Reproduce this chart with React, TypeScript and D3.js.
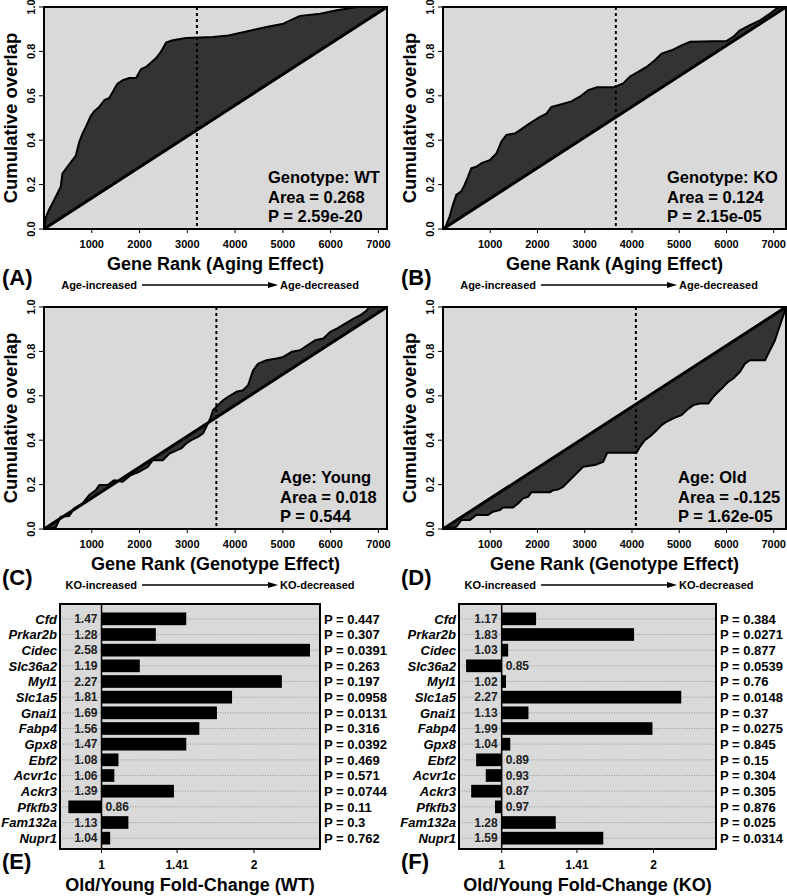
import React from "react";
import * as d3 from "d3";

const FONT = "'Liberation Sans', Arial, Helvetica, sans-serif";
const BG = "#d9d9d9";
const FILL = "#333333";

// ---------- Cumulative overlap curves (rank, overlap) ----------
const aRank = [0,35,105,210,280,350,385,455,560,665,735,806,876,981,1051,1156,1261,1366,1471,1541,1646,1786,1926,2031,2137,2242,2347,2452,2557,2697,2977,3538,3818,4238,4658,5009,5359,5779,6129,6550,7180];
const aOverlap = [0,0.05,0.087,0.13,0.16,0.19,0.25,0.27,0.30,0.33,0.39,0.43,0.46,0.51,0.53,0.55,0.58,0.59,0.63,0.655,0.67,0.68,0.68,0.72,0.73,0.75,0.77,0.80,0.84,0.85,0.86,0.865,0.87,0.89,0.91,0.925,0.96,0.97,0.985,1.0,1.0];

const bRank = [0,35,141,212,282,388,459,530,600,706,812,989,1130,1236,1342,1518,1660,1836,2013,2189,2295,2472,2719,2895,3072,3249,3602,3813,3955,4131,4308,4484,4626,4837,5049,5226,6003,6144,6285,6497,6709,6921,7062,7133,7260];
const bOverlap = [0,0,0.057,0.11,0.154,0.17,0.2,0.236,0.274,0.28,0.296,0.31,0.34,0.394,0.424,0.43,0.45,0.476,0.5,0.52,0.55,0.56,0.575,0.596,0.625,0.638,0.638,0.656,0.686,0.708,0.73,0.76,0.79,0.805,0.827,0.843,0.847,0.865,0.895,0.918,0.94,0.97,0.993,1.0,1.0];

const cRank = [0,245,350,525,630,806,946,1086,1156,1331,1471,1646,1821,1996,2172,2277,2487,2627,2872,2977,3082,3222,3327,3397,3481,3537,3643,3748,3853,4028,4168,4273,4378,4483,4658,4868,5009,5184,5359,5569,5674,5849,5989,6129,6305,6480,6620,6760,6795,7180];
const cOverlap = [0,0.007,0.055,0.058,0.093,0.115,0.153,0.175,0.198,0.198,0.22,0.213,0.243,0.258,0.28,0.31,0.31,0.34,0.363,0.385,0.4,0.415,0.43,0.46,0.498,0.535,0.558,0.58,0.595,0.618,0.625,0.648,0.715,0.745,0.76,0.768,0.775,0.798,0.805,0.835,0.85,0.858,0.888,0.903,0.925,0.948,0.963,0.985,1.0,1.0];

const dRank = [0,282,388,565,706,953,1059,1201,1271,1483,1589,1695,1801,1871,2260,2330,2436,2542,2648,2754,2860,2966,3213,3390,3474,4096,4167,4273,4414,4520,4626,4732,4873,5049,5155,5297,5438,5614,5720,5826,5932,6038,6144,6285,6391,6497,6815,6885,6956,7027,7097,7168,7239,7260];
const dOverlap = [0,0.01,0.04,0.04,0.063,0.063,0.078,0.085,0.097,0.097,0.115,0.138,0.145,0.165,0.165,0.175,0.178,0.19,0.213,0.235,0.258,0.28,0.288,0.303,0.343,0.343,0.37,0.4,0.423,0.445,0.468,0.483,0.498,0.513,0.535,0.558,0.565,0.565,0.595,0.618,0.64,0.663,0.678,0.708,0.745,0.76,0.76,0.79,0.82,0.85,0.895,0.94,0.985,1.0];

const geneCounts = [7180, 7260, 7180, 7260];
const cutRanks = [3201, 3658, 3608, 4082];
const statLines = [
  ["Genotype: WT", "Area = 0.268", "P = 2.59e-20"],
  ["Genotype: KO", "Area = 0.124", "P = 2.15e-05"],
  ["Age: Young", "Area = 0.018", "P = 0.544"],
  ["Age: Old", "Area = -0.125", "P = 1.62e-05"],
];
const panelLetters = ["(A)", "(B)", "(C)", "(D)", "(E)", "(F)"];
const rankTitles = ["Gene Rank (Aging Effect)", "Gene Rank (Aging Effect)", "Gene Rank (Genotype Effect)", "Gene Rank (Genotype Effect)"];
const arrowLeft = ["Age-increased", "Age-increased", "KO-increased", "KO-increased"];
const arrowRight = ["Age-decreased", "Age-decreased", "KO-decreased", "KO-decreased"];

const rankTicks = [1000, 2000, 3000, 4000, 5000, 6000, 7000];
const overlapTicks = [0, 0.2, 0.4, 0.6, 0.8, 1.0];

// ---------- Fold-change bar charts ----------
const genes = ["Cfd","Prkar2b","Cidec","Slc36a2","Myl1","Slc1a5","Gnai1","Fabp4","Gpx8","Ebf2","Acvr1c","Ackr3","Pfkfb3","Fam132a","Nupr1"];
const wtFold = [1.47,1.28,2.58,1.19,2.27,1.81,1.69,1.56,1.47,1.08,1.06,1.39,0.86,1.13,1.04];
const wtP = ["0.447","0.307","0.0391","0.263","0.197","0.0958","0.0131","0.316","0.0392","0.469","0.571","0.0744","0.11","0.3","0.762"];
const koFold = [1.17,1.83,1.03,0.85,1.02,2.27,1.13,1.99,1.04,0.89,0.93,0.87,0.97,1.28,1.59];
const koP = ["0.384","0.0271","0.877","0.0539","0.76","0.0148","0.37","0.0275","0.845","0.15","0.304","0.305","0.876","0.025","0.0314"];
const foldTicks = [1, 1.41, 2];
const foldTickLabels = ["1", "1.41", "2"];
const foldTitles = ["Old/Young Fold-Change (WT)", "Old/Young Fold-Change (KO)"];

function CurvePanel(props: any) {
  const { left, right, top, bottom, ranks, vals, n, cut, lines, textX, letter, title, lLbl, rLbl } = props;
  const x = d3.scaleLinear().domain([0, n]).range([left, right]);
  const y = d3.scaleLinear().domain([0, 1]).range([bottom, top]);
  const pts = ranks.map((r: number, i: number) => ({ r, v: vals[i] }));
  const area = d3.area<any>().x((d) => x(d.r)).y0((d) => y(d.r / n)).y1((d) => y(d.v));
  const line = d3.line<any>().x((d) => x(d.r)).y((d) => y(d.v));
  const cx = (left + right) / 2;
  const cy = (top + bottom) / 2;
  const ay = bottom + 56;
  return (
    <g fontFamily={FONT} fontWeight="bold">
      <rect x={left} y={top} width={right - left} height={bottom - top} fill={BG} />
      <path d={area(pts) || ""} fill={FILL} />
      <path d={line(pts) || ""} fill="none" stroke="#000" strokeWidth={2} strokeLinejoin="round" />
      <line x1={x(0)} y1={y(0)} x2={x(n)} y2={y(1)} stroke="#000" strokeWidth={3} />
      <line x1={x(cut)} x2={x(cut)} y1={top} y2={bottom} stroke="#000" strokeWidth={2} strokeDasharray="3,3" />
      <rect x={left} y={top} width={right - left} height={bottom - top} fill="none" stroke="#000" strokeWidth={2} />
      {rankTicks.map((t) => (
        <g key={t}>
          <line x1={x(t)} x2={x(t)} y1={bottom} y2={bottom + 4} stroke="#000" strokeWidth={1} />
          <text x={x(t)} y={bottom + 19} textAnchor="middle" fontSize={11}>{t}</text>
        </g>
      ))}
      {overlapTicks.map((t) => (
        <g key={t}>
          <line x1={left - 5} x2={left} y1={y(t)} y2={y(t)} stroke="#000" strokeWidth={1} />
          <text transform={`translate(${left - 9},${y(t)}) rotate(-90)`} textAnchor="middle" fontSize={11}>{t.toFixed(1)}</text>
        </g>
      ))}
      <text transform={`translate(${left - 27},${cy}) rotate(-90)`} textAnchor="middle" fontSize={18.5}>Cumulative overlap</text>
      <text x={cx} y={bottom + 41} textAnchor="middle" fontSize={18}>{title}</text>
      {lines.map((s: string, i: number) => (
        <text key={i} x={textX} y={bottom - 46 + i * 19.5} fontSize={16.5}>{s}</text>
      ))}
      <text x={left - 42} y={bottom + 56} fontSize={22}>{letter}</text>
      <text x={left + 93} y={ay + 4} textAnchor="end" fontSize={11}>{lLbl}</text>
      <line x1={left + 98} x2={left + 228} y1={ay} y2={ay} stroke="#000" strokeWidth={1.5} />
      <path d={`M${left + 234},${ay} L${left + 224},${ay - 3} L${left + 224},${ay + 3} Z`} fill="#000" />
      <text x={left + 236} y={ay + 4} fontSize={11}>{rLbl}</text>
    </g>
  );
}

function BarPanel(props: any) {
  const { left, right, top, bottom, fold, pvals, domain, letter, title } = props;
  const x = d3.scaleLog().base(2).domain(domain).range([left, right]);
  const y = d3.scaleBand().domain(genes).range([top + 7, bottom - 3]).paddingInner(0.19).paddingOuter(0.095);
  const x1 = x(1);
  return (
    <g fontFamily={FONT} fontWeight="bold">
      <rect x={left} y={top} width={right - left} height={bottom - top} fill={BG} />
      {genes.map((g) => {
        const cy = (y(g) as number) + y.bandwidth() / 2;
        return <line key={g} x1={left} x2={right} y1={cy} y2={cy} stroke="#888" strokeWidth={0.8} strokeDasharray="1,1.5" />;
      })}
      {genes.map((g, i) => {
        const v = fold[i];
        const xv = x(v);
        const yy = y(g) as number;
        const cy = yy + y.bandwidth() / 2;
        const pos = v >= 1;
        return (
          <g key={g}>
            <rect x={Math.min(x1, xv)} y={yy} width={Math.abs(xv - x1)} height={y.bandwidth()} fill="#000" />
            <text x={pos ? x1 - 4 : x1 + 4} y={cy} dy="0.36em" textAnchor={pos ? "end" : "start"} fontSize={12} fill="#222">{v.toFixed(2)}</text>
            <text x={left - 3} y={cy} dy="0.36em" textAnchor="end" fontSize={13} fontStyle="italic">{g}</text>
            <text x={right + 4} y={cy} dy="0.36em" fontSize={13}>{"P = " + pvals[i]}</text>
          </g>
        );
      })}
      <line x1={x1} x2={x1} y1={top} y2={bottom} stroke="#000" strokeWidth={1.5} />
      <rect x={left} y={top} width={right - left} height={bottom - top} fill="none" stroke="#000" strokeWidth={2} />
      {foldTicks.map((t, i) => (
        <g key={t}>
          <line x1={x(t)} x2={x(t)} y1={bottom} y2={bottom + 4} stroke="#000" strokeWidth={1} />
          <text x={x(t)} y={bottom + 20} textAnchor="middle" fontSize={12}>{foldTickLabels[i]}</text>
        </g>
      ))}
      <text x={(left + right) / 2} y={bottom + 42} textAnchor="middle" fontSize={18}>{title}</text>
      <text x={left - 58} y={bottom + 20} fontSize={22}>{letter}</text>
    </g>
  );
}

export default function App() {
  const curves = [
    { ranks: aRank, vals: aOverlap },
    { ranks: bRank, vals: bOverlap },
    { ranks: cRank, vals: cOverlap },
    { ranks: dRank, vals: dOverlap },
  ];
  const boxes = [
    { left: 44, right: 387, top: 7, bottom: 229, textX: 268 },
    { left: 443, right: 786, top: 7, bottom: 229, textX: 667 },
    { left: 44, right: 387, top: 307, bottom: 529, textX: 280 },
    { left: 443, right: 786, top: 307, bottom: 529, textX: 678 },
  ];
  return (
    <svg width={787} height={896} style={{ position: "absolute", left: 0, top: 0, background: "#fff" }}>
      {curves.map((c, i) => (
        <CurvePanel key={i} {...boxes[i]} ranks={c.ranks} vals={c.vals} n={geneCounts[i]} cut={cutRanks[i]}
          lines={statLines[i]} letter={panelLetters[i]} title={rankTitles[i]} lLbl={arrowLeft[i]} rLbl={arrowRight[i]} />
      ))}
      <BarPanel left={60} right={320} top={604} bottom={849} fold={wtFold} pvals={wtP} domain={[0.828, 2.7]} letter={panelLetters[4]} title={foldTitles[0]} />
      <BarPanel left={459} right={716} top={604} bottom={849} fold={koFold} pvals={koP} domain={[0.823, 2.66]} letter={panelLetters[5]} title={foldTitles[1]} />
    </svg>
  );
}
